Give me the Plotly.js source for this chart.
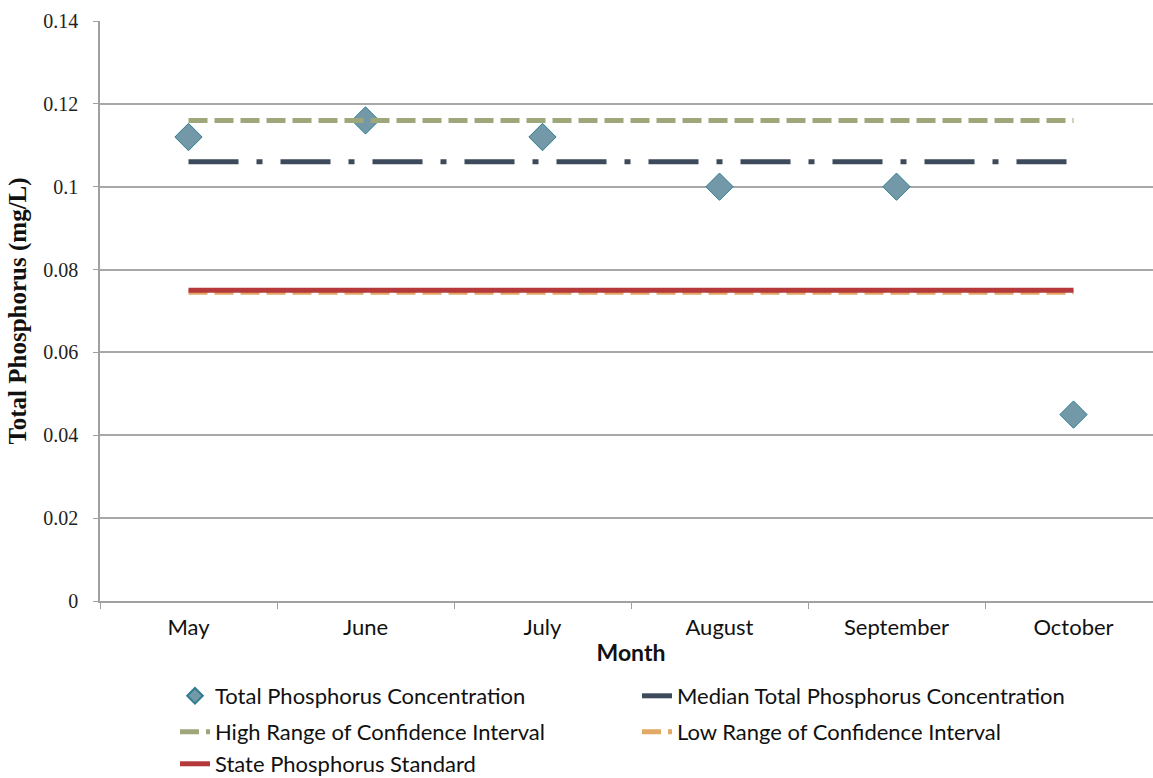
<!DOCTYPE html>
<html>
<head>
<meta charset="utf-8">
<script src="https://cdn.plot.ly/plotly-3.0.1.min.js"></script>
<style>
html,body{margin:0;padding:0;overflow:hidden;background:#fff;}
#chart{width:1162px;height:778px;}
</style>
</head>
<body>
<div id="chart"></div>
<script>
const months = ["May", "June", "July", "August", "September", "October"];
const tpConcentration = [0.112, 0.116, 0.112, 0.100, 0.100, 0.045];
const medianTP = [0.106, 0.106, 0.106, 0.106, 0.106, 0.106];
const highCI = [0.116, 0.116, 0.116, 0.116, 0.116, 0.116];
const lowCI = [0.0745, 0.0745, 0.0745, 0.0745, 0.0745, 0.0745];
const stateStandard = [0.075, 0.075, 0.075, 0.075, 0.075, 0.075];
const yTickVals = [0, 0.02, 0.04, 0.06, 0.08, 0.1, 0.12, 0.14];
const yTickText = ["0", "0.02", "0.04", "0.06", "0.08", "0.1", "0.12", "0.14"];

const sansFont = "Lato, 'Open Sans', sans-serif";
const serifFont = "'Liberation Serif', 'DejaVu Serif', serif";

const traces = [
  {
    name: "Total Phosphorus Concentration", legend: "legend",
    x: months, y: tpConcentration, type: "scatter", mode: "markers",
    marker: {symbol: "diamond", size: 21, color: "#7399a8", line: {color: "#2e7d90", width: 1}}
  },
  {
    name: "Median Total Phosphorus Concentration", legend: "legend",
    x: months, y: medianTP, type: "scatter", mode: "lines",
    line: {color: "#3d4a5b", width: 5, dash: "50px,18px,6px,18px"}
  },
  {
    name: "High Range of Confidence Interval", legend: "legend2",
    x: months, y: highCI, type: "scatter", mode: "lines",
    line: {color: "#9ea77a", width: 5, dash: "19px,7px"}
  },
  {
    name: "Low Range of Confidence Interval", legend: "legend2",
    x: months, y: lowCI, type: "scatter", mode: "lines",
    line: {color: "#e2a865", width: 5, dash: "19px,7px"}
  },
  {
    name: "State Phosphorus Standard", legend: "legend3",
    x: months, y: stateStandard, type: "scatter", mode: "lines",
    line: {color: "#b5393a", width: 5}
  }
];

function legendRow(yPaper) {
  return {
    orientation: "h", x: 0.0706, xanchor: "left", y: yPaper, yanchor: "middle",
    entrywidth: 417, entrywidthmode: "pixels", itemsizing: "constant",
    font: {family: sansFont, size: 22, color: "#111"},
    bgcolor: "rgba(0,0,0,0)"
  };
}

const layout = {
  width: 1162, height: 778,
  margin: {l: 100, r: 0, t: 21, b: 177, autoexpand: false},
  paper_bgcolor: "#ffffff", plot_bgcolor: "#ffffff",
  showlegend: true,
  xaxis: {
    type: "category", range: [-0.5, 5.5],
    showgrid: false, zeroline: false,
    showline: true, linecolor: "#a0a0a0", linewidth: 1.5,
    ticks: "outside", tickson: "boundaries", ticklen: 6, tickcolor: "#a0a0a0", tickwidth: 1,
    tickfont: {family: sansFont, size: 22, color: "#111"},
    ticklabelstandoff: 6,
    title: {text: "<b>Month</b>", font: {family: sansFont, size: 23, color: "#111"}, standoff: 6}
  },
  yaxis: {
    range: [0, 0.14], tickvals: yTickVals, ticktext: yTickText,
    showgrid: true, gridcolor: "#a8a8a8", gridwidth: 1.5, zeroline: false,
    showline: true, linecolor: "#a0a0a0", linewidth: 1.5,
    ticks: "outside", ticklen: 5, tickcolor: "#a0a0a0", tickwidth: 1,
    tickfont: {family: serifFont, size: 20, color: "#222"},
    ticklabelstandoff: 11,
    title: {text: "<b>Total Phosphorus (mg/L)</b>", font: {family: serifFont, size: 25, color: "#111"}, standoff: 10}
  },
  legend: legendRow(-0.1638),
  legend2: legendRow(-0.2259),
  legend3: legendRow(-0.2810)
};

Plotly.newPlot("chart", traces, layout, {displayModeBar: false, responsive: false});
</script>
</body>
</html>
